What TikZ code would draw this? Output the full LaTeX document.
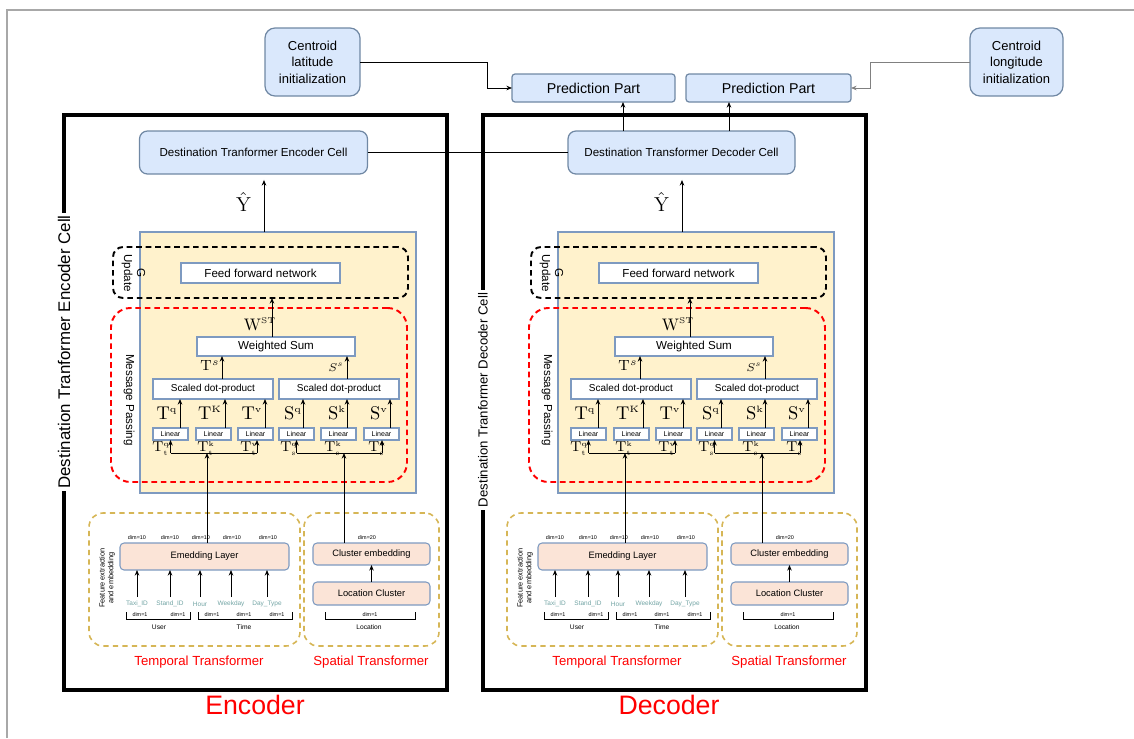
\documentclass[tikz,border=0pt]{standalone}
\usepackage{fix-cm}
\usepackage{fontspec}
\setsansfont{Liberation Sans}
\usetikzlibrary{arrows.meta}

\definecolor{bfill}{HTML}{DAE8FC}
\definecolor{bstroke}{HTML}{7088A4}
\definecolor{wstroke}{HTML}{7E9AC0}
\definecolor{yfill}{HTML}{FFF2CC}
\definecolor{pfill}{HTML}{FBE4D7}
\definecolor{tan}{HTML}{D6B656}
\definecolor{teal}{HTML}{72A4A4}
\definecolor{redc}{HTML}{FF0000}
\definecolor{frame}{HTML}{A8A8A8}

\tikzset{
  arr/.style={-{Stealth[length=3.2pt,width=2.6pt]}, line width=0.55pt},
  ln/.style={line width=0.55pt},
  sz/.style 2 args={minimum width=#1*0.02cm, minimum height=#2*0.02cm, inner sep=0pt, outer sep=0pt},
  bluebox/.style={draw=bstroke, fill=bfill, line width=0.7pt},
  wbox/.style={draw=wstroke, fill=white, line width=0.6pt},
  pbox/.style={draw=wstroke, fill=pfill, line width=0.6pt, rounded corners=2.3pt},
  yel/.style={draw=wstroke, fill=yfill, line width=0.6pt},
  gdash/.style={draw=black, line width=1.1pt, dash pattern=on 3.2pt off 2.2pt, rounded corners=5.7pt},
  rdash/.style={draw=redc, line width=1.1pt, dash pattern=on 3.2pt off 2.2pt, rounded corners=11pt},
  tdash/.style={draw=tan, line width=0.9pt, dash pattern=on 3pt off 2.4pt, rounded corners=8pt},
  bigbox/.style={draw=black, line width=2pt},
  fPred/.style={font=\sffamily\fontsize{8.1}{9.7}\selectfont},
  fCent/.style={font=\sffamily\fontsize{7.4}{9.35}\selectfont},
  fMid/.style={font=\sffamily\fontsize{6.6}{7.4}\selectfont},
  fSc/.style={font=\sffamily\fontsize{5.7}{6.8}\selectfont},
  fLin/.style={font=\sffamily\fontsize{4.0}{4.8}\selectfont},
  fEmb/.style={font=\sffamily\fontsize{5.3}{6.4}\selectfont},
  fIn/.style={font=\sffamily\fontsize{3.7}{4.4}\selectfont, text=teal},
  fDim/.style={font=\sffamily\fontsize{3.1}{3.7}\selectfont},
  fGrp/.style={font=\sffamily\fontsize{3.8}{4.6}\selectfont},
  fFeat/.style={font=\sffamily\fontsize{4.2}{5.0}\selectfont},
  fRed/.style={font=\sffamily\fontsize{7.5}{9}\selectfont, text=redc},
  fBig/.style={font=\sffamily\fontsize{15.2}{18}\selectfont, text=redc},
  fSideE/.style={font=\sffamily\fontsize{9.6}{11}\selectfont, fill=white, inner sep=1.5pt},
  fSideD/.style={font=\sffamily\fontsize{7.5}{9}\selectfont, fill=white, inner sep=1.5pt},
  mT/.style={font=\fontsize{10.5}{12}\selectfont, inner sep=0pt},
  mW/.style={font=\fontsize{9.5}{11}\selectfont, inner sep=0pt},
  mTs/.style={font=\fontsize{8.4}{10}\selectfont, inner sep=0pt},
  mSs/.style={font=\fontsize{6.4}{8}\selectfont, inner sep=0pt},
  mB/.style={font=\fontsize{8.2}{10}\selectfont, inner sep=0pt},
  mY/.style={font=\fontsize{11.5}{13}\selectfont, inner sep=0pt},
}

\begin{document}
\begin{tikzpicture}[x=0.02cm, y=-0.02cm]
\useasboundingbox (0,0) rectangle (1134,738);

% outer frame lines
\draw[frame, line width=0.6pt] (7,738) -- (7,10) -- (1134,10);

% encoder / decoder outlines
\node[bigbox, sz={383}{575}] (enc) at (255.5,402.5) {};
\node[bigbox, sz={383}{575}] (dec) at (674.5,402.5) {};
\node[fSideE, rotate=90] (enc-side) at (64,352) {Destination Tranformer Encoder Cell};
\node[fSideD, rotate=90] (dec-side) at (483,400) {Destination Tranformer Decoder Cell};

% top row
\node[bluebox, sz={95}{68}, rounded corners=5.7pt, fCent, align=center] (lat) at (312.5,62) {Centroid\\latitude\\initialization};
\node[bluebox, sz={93}{68}, rounded corners=5.7pt, fCent, align=center] (lon) at (1016.5,62) {Centroid\\longitude\\initialization};
\node[bluebox, sz={163}{28}, rounded corners=1.7pt, fPred] (pred1) at (593.5,88) {Prediction Part};
\node[bluebox, sz={165}{28}, rounded corners=1.7pt, fPred] (pred2) at (768.5,88) {Prediction Part};

\coordinate (latbend) at (487,0);
\coordinate (lonbend) at (870,0);
\draw[arr] (lat.east) -- (lat.east -| latbend) |- (pred1.west);
\draw[arr, draw=gray] (lon.west) -- (lon.west -| lonbend) |- (pred2.east);

% cells
\node[bluebox, sz={228}{43}, rounded corners=4.5pt, fMid] (e-cell) at (253.5,152.5) {Destination Tranformer Encoder Cell};
\node[bluebox, sz={227}{43}, rounded corners=4.5pt, fMid] (d-cell) at (681.5,152.5) {Destination Transformer Decoder Cell};
\draw[ln] (e-cell.east) -- (d-cell.west);

\coordinate (up1) at (623,0);
\coordinate (up2) at (729,0);
\draw[arr] (d-cell.north -| up1) -- (pred1.south -| up1);
\draw[arr] (d-cell.north -| up2) -- (pred2.south -| up2);

% the two identical stacks
\foreach \p/\dx in {e/0,d/418}{
\begin{scope}[xshift=\dx*0.02cm]
  \node[yel, sz={276}{261}] (\p-yel) at (278,362.5) {};
  \node[gdash, sz={295}{51}] (\p-g) at (260.5,272.5) {};
  \node[fMid, rotate=-90, align=center, inner sep=0pt] (\p-glab) at (133.5,273) {G\\Update};
  \node[wbox, sz={159}{20}, fMid] (\p-ffn) at (260.5,273) {Feed forward network};
  \node[rdash, sz={296}{174}] (\p-mp) at (259,395) {};
  \node[fMid, rotate=-90, inner sep=0pt] (\p-mplab) at (129,400) {Message Passing};

  % output arrow and label
  \coordinate (\p-yx) at (264,0);
  \draw[arr, shorten >=3.4pt] (\p-yel.north -| \p-yx) -- (\p-cell.south -| \p-yx);
  \node[mY] (\p-yhat) at (243.5,202) {$\hat{\mathrm{Y}}$};

  \node[wbox, sz={158}{19}, fMid] (\p-ws) at (276,346.5) {Weighted Sum};
  \coordinate (\p-wx) at (272,0);
  \draw[arr] (\p-ws.north -| \p-wx) -- (\p-g.south -| \p-wx);
  \node[mW] (\p-wst) at (260,324) {$\mathrm{W}^{\scriptscriptstyle\mathrm{ST}}$};

  \node[wbox, sz={120}{20}, fSc] (\p-sl) at (213,389) {Scaled dot-product};
  \node[wbox, sz={120}{20}, fSc] (\p-sr) at (339,389) {Scaled dot-product};
  \coordinate (\p-sxl) at (222,0);
  \coordinate (\p-sxr) at (347,0);
  \draw[arr] (\p-sl.north -| \p-sxl) -- (\p-ws.south -| \p-sxl);
  \draw[arr] (\p-sr.north -| \p-sxr) -- (\p-ws.south -| \p-sxr);
  \node[mTs] (\p-ts) at (210,366) {$\mathrm{T}^{s}$};
  \node[mSs] (\p-ss) at (336,367) {$S^{s}$};

  % linear layers
  \foreach \i/\cx/\ux/\tgt in {1/170.5/180/sl, 2/213.5/225/sl, 3/255.5/265/sl, 4/296.5/303/sr, 5/338.5/347/sr, 6/381.5/390/sr}{
    \node[wbox, sz={35}{12}, fLin] (\p-lin\i) at (\cx,434) {Linear};
    \coordinate (\p-u\i) at (\ux,0);
    \draw[arr] (\p-lin\i.north -| \p-u\i) -- (\p-\tgt.south -| \p-u\i);
  }
  \node[mT] (\p-l1) at (167,413) {$\mathrm{T}^{\scriptscriptstyle\mathrm{q}}$};
  \node[mT] (\p-l2) at (210,413) {$\mathrm{T}^{\scriptscriptstyle\mathrm{K}}$};
  \node[mT] (\p-l3) at (252,413) {$\mathrm{T}^{\scriptscriptstyle\mathrm{v}}$};
  \node[mT] (\p-l4) at (293,413) {$\mathrm{S}^{\scriptscriptstyle\mathrm{q}}$};
  \node[mT] (\p-l5) at (337,413) {$\mathrm{S}^{\scriptscriptstyle\mathrm{k}}$};
  \node[mT] (\p-l6) at (379,413) {$\mathrm{S}^{\scriptscriptstyle\mathrm{v}}$};

  \node[mB] (\p-b1) at (161,448.5) {$\mathrm{T}_{\scriptscriptstyle\mathrm{t}}^{\scriptscriptstyle\mathrm{q}}$};
  \node[mB] (\p-b2) at (206,448.5) {$\mathrm{T}_{\scriptscriptstyle\mathrm{t}}^{\scriptscriptstyle\mathrm{k}}$};
  \node[mB] (\p-b3) at (249,448.5) {$\mathrm{T}_{\scriptscriptstyle\mathrm{t}}^{\scriptscriptstyle\mathrm{v}}$};
  \node[mB] (\p-b4) at (289,448.5) {$\mathrm{T}_{\scriptscriptstyle\mathrm{s}}^{\scriptscriptstyle\mathrm{q}}$};
  \node[mB] (\p-b5) at (333,448.5) {$\mathrm{T}_{\scriptscriptstyle\mathrm{s}}^{\scriptscriptstyle\mathrm{k}}$};
  \node[mB] (\p-b6) at (377,448.5) {$\mathrm{T}_{\scriptscriptstyle\mathrm{s}}^{\scriptscriptstyle\mathrm{v}}$};

  % distribution buses
  \coordinate (\p-bl1) at (170.5,453);
  \coordinate (\p-bl2) at (257,453);
  \coordinate (\p-br1) at (296.5,453);
  \coordinate (\p-br2) at (382,453);
  \draw[ln] (\p-bl1) -- (\p-bl2);
  \draw[ln] (\p-br1) -- (\p-br2);
  \draw[arr] (\p-bl1) -- (\p-lin1.south -| \p-bl1);
  \draw[arr] (\p-bl2) -- (\p-lin3.south -| \p-bl2);
  \draw[arr] (\p-br1) -- (\p-lin4.south -| \p-br1);
  \draw[arr] (\p-br2) -- (\p-lin6.south -| \p-br2);

  % feature extraction
  \node[tdash, sz={211}{133}] (\p-temp) at (194.5,579.5) {};
  \node[tdash, sz={135}{133}] (\p-spat) at (371.5,579.5) {};
  \node[fFeat, rotate=90, align=center, inner sep=0pt] (\p-feat) at (107,578) {Feature extraction\\and embedding};

  \node[pbox, sz={169}{27}, fEmb] (\p-emb) at (204.5,556.5) {Emedding Layer};
  \node[pbox, sz={117}{22}, fEmb] (\p-ce) at (371.5,554) {Cluster embedding};
  \node[pbox, sz={117}{23}, fEmb] (\p-lc) at (371.5,593.5) {Location Cluster};
  \draw[arr] (\p-lc.north) -- (\p-ce.south);

  \coordinate (\p-inl) at (207,0);
  \coordinate (\p-inr) at (344,0);
  \draw[arr] (\p-emb.north -| \p-inl) -- (\p-bl1 -| \p-inl);
  \draw[arr] (\p-ce.north -| \p-inr) -- (\p-br1 -| \p-inr);

  \foreach \x in {137,170,201,232,268}{
    \node[fDim, inner sep=0pt] at (\x,538) {dim=10};
  }
  \node[fDim, inner sep=0pt] (\p-d20) at (367,538) {dim=20};

  \foreach \i/\x/\t in {1/137/Taxi\_ID, 2/170/Stand\_ID, 3/200/Hour, 4/231/Weekday, 5/267/Day\_Type}{
    \node[fIn, inner sep=0pt] (\p-in\i) at (\x,604) {\t};
    \draw[arr] (\x,597) -- (\p-emb.south -| \p-in\i);
  }

  % groupings
  \draw[ln] (126,612) -- (126,619) -- (190,619) -- (190,612);
  \draw[ln] (198,612) -- (198,619) -- (292,619) -- (292,612);
  \draw[ln] (325,612) -- (325,619) -- (415,619) -- (415,612);
  \foreach \x in {140,178,212,244,277,370}{
    \node[fDim, inner sep=0pt] at (\x,615) {dim=1};
  }
  \node[fGrp, inner sep=0pt] (\p-user) at (159,627.5) {User};
  \node[fGrp, inner sep=0pt] (\p-time) at (244,627.5) {Time};
  \node[fGrp, inner sep=0pt] (\p-loc) at (369,627.5) {Location};

  \node[fRed, inner sep=0pt] (\p-tt) at (199,662) {Temporal Transformer};
  \node[fRed, inner sep=0pt] (\p-st) at (371,662) {Spatial Transformer};
\end{scope}
}

\node[fBig, inner sep=0pt] (enc-name) at (255,705) {Encoder};
\node[fBig, inner sep=0pt] (dec-name) at (669,705) {Decoder};
\end{tikzpicture}
\end{document}
